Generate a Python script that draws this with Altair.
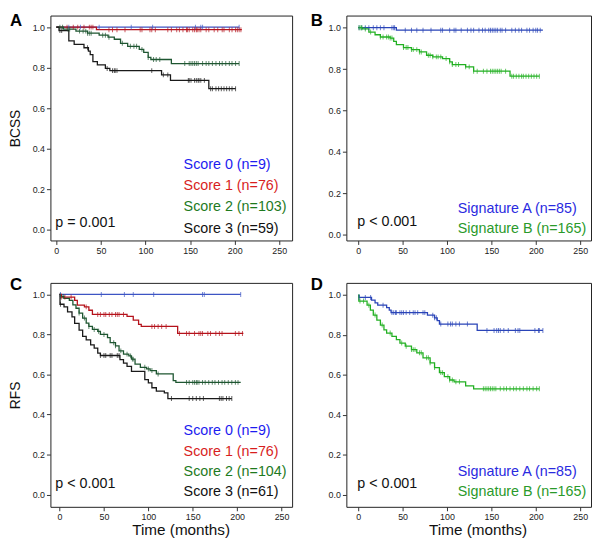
import altair as alt
import pandas as pd

# ---------------- data ----------------
XTICKS = [0, 50, 100, 150, 200, 250]
YTICKS = [0.0, 0.2, 0.4, 0.6, 0.8, 1.0]

# Panel A (BCSS by score)
A0_t = [0]; A0_s = [1.0]; A0_end = 205
A0_c = [14, 27, 48, 84, 108, 156, 162, 164, 205]
A1_t = [0, 45]; A1_s = [1.0, 0.987]; A1_end = 208
A1_c = [12, 19, 24, 31, 37, 39, 41, 59, 63, 68, 77, 94, 96, 105, 107, 111, 125, 129, 135, 138,
        142, 146, 147, 149, 153, 155, 157, 158, 160, 162, 168, 171, 177, 181, 186, 188, 194,
        197, 201, 203, 205, 207]
A2_t = [0, 8, 22, 35, 48, 58, 65, 72, 80, 93, 98, 103, 106, 129]
A2_s = [1.0, 0.99, 0.98, 0.97, 0.96, 0.95, 0.94, 0.92, 0.905, 0.89, 0.875, 0.85, 0.84, 0.82]
A2_end = 205
A2_c = [4, 7, 13, 15, 26, 30, 33, 35, 37, 39, 52, 55, 59, 74, 83, 87, 90, 96, 103, 109, 112, 116,
        144, 149, 151, 153, 155, 157, 159, 164, 168, 171, 175, 179, 183, 186, 190, 194, 197, 201, 205]
A3_t = [0, 3, 14, 20, 31, 36, 38, 41, 46, 55, 60, 118, 128, 171]
A3_s = [1.0, 0.983, 0.932, 0.915, 0.898, 0.881, 0.864, 0.83, 0.813, 0.796, 0.785, 0.764, 0.737, 0.696]
A3_end = 201
A3_c = [4, 6, 35, 57, 63, 65, 66, 68, 107, 120, 125, 148, 149, 151, 155, 157, 159, 160, 162, 166,
        173, 175, 179, 182, 185, 188, 191, 194, 197, 201]

# Panel B (BCSS by signature)
BA_t = [0, 43]; BA_s = [1.0, 0.988]; BA_end = 208
BA_c = [1, 4, 8, 12, 17, 21, 25, 29, 38, 40, 41, 53, 60, 66, 73, 82, 93, 95, 103, 108, 110, 116,
        123, 127, 130, 136, 140, 143, 147, 149, 151, 153, 155, 157, 160, 162, 166, 173, 177, 181,
        184, 190, 193, 197, 200, 202, 205]
BB_t = [0, 5, 12, 19, 25, 36, 40, 43, 51, 60, 69, 77, 84, 95, 103, 106, 121, 130, 171]
BB_s = [1.0, 0.994, 0.979, 0.966, 0.955, 0.95, 0.934, 0.918, 0.904, 0.894, 0.883, 0.867, 0.859,
        0.851, 0.835, 0.822, 0.811, 0.79, 0.766]
BB_end = 204
BB_c = [1, 3, 4, 8, 14, 25, 28, 32, 34, 36, 38, 51, 54, 56, 60, 62, 66, 69, 71, 79, 81, 84, 88, 90,
        93, 99, 103, 106, 110, 113, 121, 125, 130, 134, 141, 145, 149, 151, 153, 155, 157, 159, 161,
        166, 173, 175, 178, 181, 184, 186, 189, 192, 195, 198, 201, 204]

# Panel C (RFS by score)
C0_t = [0]; C0_s = [1.0]; C0_end = 204
C0_c = [1, 47, 73, 83, 106, 161, 163, 204]
C1_t = [0, 2, 17, 20, 28, 33, 37, 76, 83, 89, 92, 133]
C1_s = [1.0, 0.987, 0.97, 0.947, 0.938, 0.921, 0.90, 0.89, 0.872, 0.85, 0.84, 0.805]
C1_end = 207
C1_c = [2, 6, 13, 30, 43, 46, 50, 52, 56, 59, 63, 65, 67, 72, 104, 107, 111, 115, 120, 135, 143,
        146, 152, 157, 159, 161, 167, 170, 176, 180, 183, 198, 202, 206]
C2_t = [0, 1, 5, 11, 15, 18.5, 22, 26, 30, 33, 37, 43, 46, 54, 57, 63, 67, 72, 78, 81, 85, 91, 98,
        102, 109, 128, 131]
C2_s = [1.0, 0.99, 0.98, 0.97, 0.948, 0.931, 0.907, 0.882, 0.857, 0.84, 0.825, 0.816, 0.80, 0.784,
        0.759, 0.743, 0.718, 0.702, 0.693, 0.677, 0.652, 0.636, 0.628, 0.62, 0.603, 0.57, 0.561]
C2_end = 204
C2_c = [1, 4, 22, 28, 33, 39, 44, 50, 61, 63, 69, 76, 80, 82, 83, 96, 100, 104, 111, 143, 146, 150,
        152, 154, 155, 157, 161, 164, 168, 172, 175, 179, 183, 186, 190, 194, 198, 201]
C3_t = [0, 0.5, 5, 9, 14, 17, 22, 26, 30, 35, 39, 43, 46, 68, 72, 76, 81, 96, 100, 104, 109, 118, 122]
C3_s = [1.0, 0.951, 0.938, 0.913, 0.888, 0.855, 0.822, 0.79, 0.773, 0.748, 0.732, 0.707, 0.695,
        0.674, 0.657, 0.641, 0.616, 0.575, 0.558, 0.534, 0.517, 0.508, 0.48]
C3_end = 194
C3_c = [1, 46, 50, 52, 57, 59, 65, 67, 126, 146, 150, 154, 158, 162, 180, 182, 184, 188, 191, 194]

# Panel D (RFS by signature)
DA_t = [0, 1, 15, 19, 22, 32, 35, 37, 78, 86, 89, 91.5, 134]
DA_s = [1.0, 0.988, 0.974, 0.961, 0.949, 0.937, 0.924, 0.912, 0.899, 0.886, 0.872, 0.855, 0.823]
DA_end = 208
DA_c = [1, 8, 14, 28, 38, 40, 42, 43, 47, 49, 51, 54, 58, 62, 64, 67, 73, 75, 84, 86, 88, 93, 101,
        104, 106, 110, 114, 123, 145, 153, 156, 158, 160, 164, 169, 177, 180, 182, 199, 203, 204, 208]
DB_t = [0, 0.7, 10, 13.7, 17, 21, 25, 29, 32, 38, 43, 47, 53, 60, 66, 73, 81, 86, 91.5, 97, 103,
        108, 121, 130]
DB_s = [1.0, 0.97, 0.949, 0.924, 0.9, 0.875, 0.85, 0.826, 0.81, 0.793, 0.777, 0.76, 0.744, 0.727,
        0.711, 0.686, 0.661, 0.637, 0.612, 0.592, 0.575, 0.566, 0.546, 0.531]
DB_end = 204
DB_c = [2, 6, 12, 19, 27, 36, 49, 54, 60, 62, 64, 69, 71, 77, 79, 81, 86, 93, 95, 101, 103, 106,
        110, 114, 141, 143, 145, 147, 149, 151, 153, 155, 160, 164, 167, 171, 175, 178, 182, 186,
        190, 193, 197, 201, 204]

SCORE_LABELS_A = ["Score 0 (n=9)", "Score 1 (n=76)", "Score 2 (n=103)", "Score 3 (n=59)"]
SCORE_LABELS_C = ["Score 0 (n=9)", "Score 1 (n=76)", "Score 2 (n=104)", "Score 3 (n=61)"]
SIG_LABELS = ["Signature A (n=85)", "Signature B (n=165)"]

# ---------------- styles ----------------
FONT = "Liberation Sans, Arial, sans-serif"
SCORE_LINE = ["#3d55c4", "#b5121b", "#1e5631", "#1a1a1a"]
SCORE_TEXT = ["#1c1cf0", "#d81e1e", "#1e7a1e", "#111111"]
SIG_LINE = ["#2a44b8", "#22b022"]
SIG_TEXT = ["#2a2ae0", "#2a9a2a"]
LEG_SIZE = 14.5


def surv_at(times, surv, c):
    val = surv[0]
    for t, s in zip(times, surv):
        if t <= c:
            val = s
    return val


def build(series, colors):
    lines, cens = [], []
    for i, ((times, surv, end, cs), col) in enumerate(zip(series, colors)):
        for t, s in zip(times, surv):
            lines.append({"t": t, "s": s, "g": i, "col": col})
        lines.append({"t": end, "s": surv[-1], "g": i, "col": col})
        for c in cs:
            cens.append({"t": c, "s": surv_at(times, surv, c), "g": i, "col": col})
    return pd.DataFrame(lines), pd.DataFrame(cens)


def text_layer(txt, x, y, color, size=LEG_SIZE, weight="normal", baseline="middle"):
    return alt.Chart(pd.DataFrame([{"k": 0}])).mark_text(
        align="left", baseline=baseline, font=FONT, fontSize=size, fontWeight=weight, color=color
    ).encode(x=alt.value(x), y=alt.value(y), text=alt.value(txt))


def panel(series, line_colors, labels, text_colors, label_x, label_ys, ptxt, px, py,
          letter, lx, ly, xdom, ydom, w, h, ytitle=None, xtitle=None, xtitle_x=0):
    ldf, cdf = build(series, line_colors)
    yaxis = alt.Axis(values=YTICKS, format=".1f", title=ytitle,
                     titleX=-31, titleY=h / 2, titleAngle=270, titleAlign="center",
                     titleBaseline="alphabetic", titleFont=FONT, titleFontSize=14,
                     titleFontWeight="normal", titleColor="#111")
    xaxis = alt.Axis(values=XTICKS, title=xtitle, titleX=xtitle_x, titleY=28,
                     titleAlign="center", titleBaseline="alphabetic", titleFont=FONT,
                     titleFontSize=15.5, titleFontWeight="normal", titleColor="#111")
    x = alt.X("t:Q", scale=alt.Scale(domain=xdom, nice=False, zero=False), axis=xaxis)
    y = alt.Y("s:Q", scale=alt.Scale(domain=ydom, nice=False, zero=False), axis=yaxis)
    lines = alt.Chart(ldf).mark_line(interpolate="step-after", strokeWidth=1.3).encode(
        x=x, y=y, color=alt.Color("col:N", scale=None), detail="g:N")
    ticks = alt.Chart(cdf).mark_tick(orient="vertical", size=5, thickness=1).encode(
        x="t:Q", y="s:Q", color=alt.Color("col:N", scale=None))
    layers = [lines, ticks]
    for lab, col, yy in zip(labels, text_colors, label_ys):
        layers.append(text_layer(lab, label_x, yy, col))
    layers.append(text_layer(ptxt, px, py, "#111"))
    layers.append(text_layer(letter, lx, ly, "#000", size=17, weight="bold", baseline="top"))
    return alt.layer(*layers).properties(width=w, height=h)


pA = panel([(A0_t, A0_s, A0_end, A0_c), (A1_t, A1_s, A1_end, A1_c),
            (A2_t, A2_s, A2_end, A2_c), (A3_t, A3_s, A3_end, A3_c)],
           SCORE_LINE, SCORE_LABELS_A, SCORE_TEXT, 135, [152, 173, 194, 216],
           "p = 0.001", 5, 210, "A", -41, -2,
           [-6.64, 264.4], [-0.0536, 1.057], 245, 228, ytitle="BCSS")
pB = panel([(BA_t, BA_s, BA_end, BA_c), (BB_t, BB_s, BB_end, BB_c)],
           SIG_LINE, SIG_LABELS, SIG_TEXT, 113, [196, 216],
           "p < 0.001", 11, 209, "B", -36, -2,
           [-13.33, 262.2], [-0.0271, 1.0586], 248, 228)
pC = panel([(C0_t, C0_s, C0_end, C0_c), (C1_t, C1_s, C1_end, C1_c),
            (C2_t, C2_s, C2_end, C2_c), (C3_t, C3_s, C3_end, C3_c)],
           SCORE_LINE, SCORE_LABELS_C, SCORE_TEXT, 135, [150, 171, 192, 212],
           "p < 0.001", 5, 204, "C", -41, -6,
           [-10.3, 261.9], [-0.0606, 1.0576], 245, 227, ytitle="RFS",
           xtitle="Time (months)", xtitle_x=132)
pD = panel([(DA_t, DA_s, DA_end, DA_c), (DB_t, DB_s, DB_end, DB_c)],
           SIG_LINE, SIG_LABELS, SIG_TEXT, 113, [192, 212],
           "p < 0.001", 11, 204, "D", -36, -6,
           [-13.33, 262.2], [-0.0592, 1.0607], 248, 227,
           xtitle="Time (months)", xtitle_x=133)

chart = alt.concat(pA, pB, pC, pD, columns=2, spacing={"row": 43, "column": 55},
                   bounds="flush", align="each").properties(
    padding=0, background="white"
).configure_view(stroke="#222", strokeWidth=1).configure_axis(
    domain=False, grid=False, tickColor="#333", tickSize=4, tickWidth=1,
    labelFont=FONT, labelFontSize=9, labelColor="#222", labelPadding=2
)

chart.save("out.html", embed_options={"renderer": "svg", "actions": False})
